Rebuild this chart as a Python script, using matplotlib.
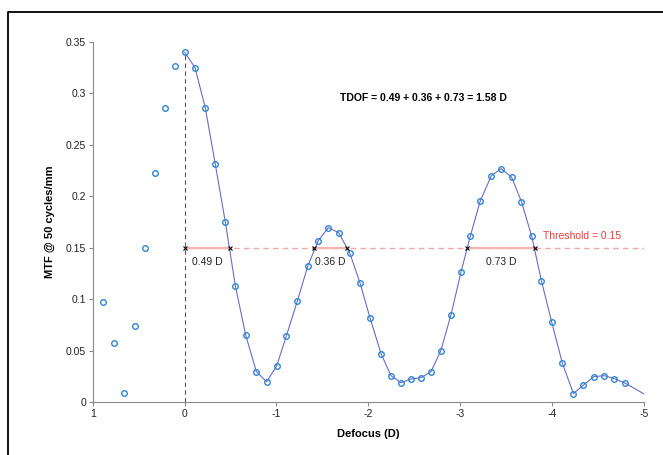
import matplotlib
matplotlib.use("Agg")
import matplotlib.pyplot as plt
from matplotlib.lines import Line2D

plt.rcParams['font.family'] = ['Liberation Sans', 'DejaVu Sans']
plt.rcParams['axes.unicode_minus'] = False

# Measured points for positive defocus (no fitted line)
left_x = [0.886, 0.773, 0.657, 0.537, 0.428, 0.323, 0.214, 0.105]
left_y = [0.097, 0.057, 0.0085, 0.074, 0.150, 0.223, 0.286, 0.327]

# Measured points for negative defocus (with line)
curve_x = [0.0, -0.113, -0.225, -0.334, -0.443, -0.552, -0.665, -0.781, -0.893,
           -1.002, -1.107, -1.227, -1.340, -1.456, -1.565, -1.678, -1.797, -1.910,
           -2.020, -2.140, -2.247, -2.356, -2.465, -2.574, -2.683, -2.790, -2.900,
           -3.010, -3.110, -3.220, -3.340, -3.446, -3.560, -3.668, -3.780, -3.886,
           -3.998, -4.114, -4.234, -4.343, -4.455, -4.572, -4.680, -4.800]
curve_y = [0.340, 0.325, 0.286, 0.231, 0.175, 0.113, 0.065, 0.0295, 0.0197,
           0.035, 0.064, 0.098, 0.132, 0.157, 0.1695, 0.1646, 0.145, 0.1157,
           0.0814, 0.0467, 0.0256, 0.0188, 0.0224, 0.0236, 0.0295, 0.050, 0.0846,
           0.1264, 0.161, 0.1957, 0.220, 0.2268, 0.2187, 0.1947, 0.161, 0.1176,
           0.0775, 0.0376, 0.0081, 0.0165, 0.0246, 0.0256, 0.0227, 0.0182]
fit_end_x = -5.0
fit_end_y = 0.008

threshold = 0.15
segments = [(0.0, -0.49), (-1.41, -1.77), (-3.08, -3.81)]
seg_labels = ['0.49 D', '0.36 D', '0.73 D']
tdof_text = 'TDOF = 0.49 + 0.36 + 0.73 = 1.58 D'

xticks = [1, 0, -1, -2, -3, -4, -5]
yticks = [0, 0.05, 0.1, 0.15, 0.2, 0.25, 0.3, 0.35]
ytick_labels = ['0', '0.05', '0.1', '0.15', '0.2', '0.25', '0.3', '0.35']

fig = plt.figure(figsize=(6.63, 4.55), dpi=100)
ax = fig.add_axes([0.140, 0.1165, 0.831, 0.7912])

# threshold dashed line
ax.plot([0, -5], [threshold, threshold], color='#f6a5a5', lw=1.0,
        linestyle=(0, (4, 3)), zorder=1)
for (a, b), lab in zip(segments, seg_labels):
    ax.plot([a, b], [threshold, threshold], color='#f8b3b3', lw=1.6,
            solid_capstyle='butt', zorder=2)
    ax.plot([a, b], [threshold, threshold], linestyle='none', marker='x',
            color='black', markersize=3.5, mew=0.8, zorder=5)
    ax.text((a + b) / 2, threshold - 0.0135, lab, ha='center', va='center',
            fontsize=7.5, color='#222222')

# vertical dashed at focus
ax.plot([0, 0], [0, curve_y[0]], color='#555555', lw=0.8,
        linestyle=(0, (4, 3)), zorder=1)

# fitted line
ax.plot(curve_x + [fit_end_x], curve_y + [fit_end_y], color='#6b6bc8', lw=0.8, zorder=3)

# markers
ax.plot(left_x + curve_x, left_y + curve_y, linestyle='none', marker='o',
        markersize=4.0, mfc='none', mec='#2f86d4', mew=1.0, zorder=4)

ax.text(-3.90, 0.161, 'Threshold = 0.15', color='#f03a3a', fontsize=7.5,
        ha='left', va='center')
ax.text(-2.60, 0.2955, tdof_text, fontsize=7.5, fontweight='bold',
        ha='center', va='center')

ax.set_xlim(1, -5)
ax.set_ylim(0, 0.35)
ax.set_xticks(xticks)
ax.set_xticklabels([str(t) for t in xticks])
ax.set_yticks(yticks)
ax.set_yticklabels(ytick_labels)
for s in ['top', 'right']:
    ax.spines[s].set_visible(False)
for s in ['left', 'bottom']:
    ax.spines[s].set_color('#8a8a8a')
    ax.spines[s].set_linewidth(0.8)
ax.tick_params(direction='out', length=3, width=0.8, color='#8a8a8a',
               labelsize=7.5, labelcolor='#222222', pad=2)
ax.set_xlabel('Defocus (D)', fontsize=8, fontweight='bold', labelpad=7)
ax.set_ylabel('MTF @ 50 cycles/mm', fontsize=8, fontweight='bold', labelpad=8)

# figure frame (top and left edges visible)
fx = 8 / 663
fy = 1 - 12 / 455
fig.add_artist(Line2D([fx, fx, 1.0], [0.0, fy, fy], transform=fig.transFigure,
                      color='black', lw=1.3))

fig.savefig('out.png', dpi=100)
